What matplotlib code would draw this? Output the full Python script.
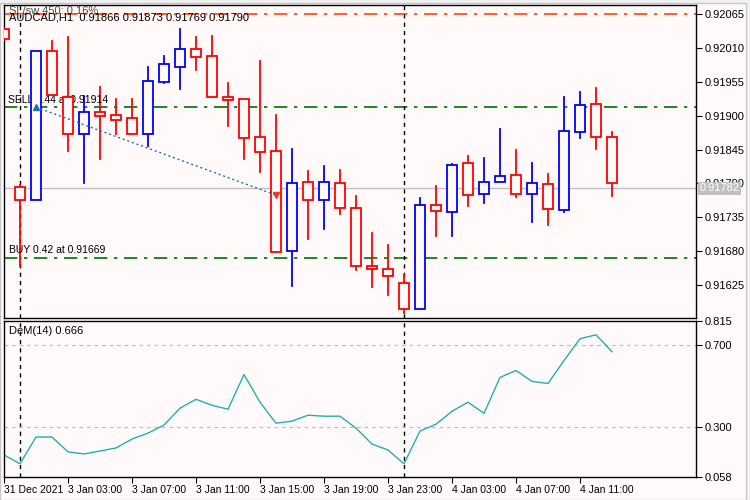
import matplotlib
matplotlib.use("Agg")
import matplotlib.pyplot as plt

opens  = [0.92041,0.91784,0.91763,0.92005,0.91931,0.91870,0.91906,0.91901,0.91896,0.91870,0.91955,0.91979,0.92009,0.91997,0.91931,0.91927,0.91866,0.91843,0.91680,0.91792,0.91763,0.91791,0.91750,0.91656,0.91651,0.91628,0.91586,0.91755,0.91744,0.91823,0.91773,0.91792,0.91804,0.91773,0.91789,0.91747,0.91874,0.91919,0.91866]
highs  = [0.92043,0.91788,0.92005,0.92022,0.92028,0.91932,0.91947,0.91927,0.91927,0.91979,0.91997,0.92041,0.92028,0.92030,0.91953,0.91927,0.91989,0.91901,0.91846,0.91810,0.91818,0.91812,0.91770,0.91710,0.91690,0.91641,0.91766,0.91786,0.91822,0.91835,0.91831,0.91879,0.91844,0.91823,0.91805,0.91931,0.91939,0.91945,0.91873]
lows   = [0.92023,0.91656,0.91763,0.91934,0.91843,0.91791,0.91830,0.91870,0.91870,0.91851,0.91953,0.91944,0.91974,0.91931,0.91883,0.91830,0.91809,0.91679,0.91623,0.91700,0.91716,0.91740,0.91649,0.91622,0.91609,0.91579,0.91586,0.91705,0.91705,0.91753,0.91758,0.91792,0.91768,0.91727,0.91722,0.91744,0.91864,0.91846,0.91769]
closes = [0.92025,0.91763,0.92005,0.91934,0.91870,0.91906,0.91900,0.91893,0.91870,0.91957,0.91984,0.92009,0.91996,0.91931,0.91926,0.91864,0.91841,0.91679,0.91791,0.91763,0.91792,0.91750,0.91656,0.91651,0.91640,0.91586,0.91755,0.91745,0.91820,0.91771,0.91792,0.91802,0.91773,0.91791,0.91748,0.91875,0.91918,0.91866,0.91790]
dem = [0.165,0.122,0.252,0.252,0.180,0.170,0.184,0.199,0.242,0.271,0.310,0.392,0.435,0.406,0.387,0.555,0.421,0.319,0.329,0.358,0.353,0.353,0.295,0.218,0.189,0.122,0.281,0.314,0.377,0.421,0.367,0.541,0.575,0.522,0.512,0.623,0.729,0.748,0.666]
price_ticks = [0.92065,0.92010,0.91955,0.91900,0.91845,0.91790,0.91735,0.91680,0.91625]
dem_ticks = [0.815,0.700,0.300,0.058]
time_tick_idx = [0,4,8,12,16,20,24,28,32,36]
time_labels = ["31 Dec 2021","3 Jan 03:00","3 Jan 07:00","3 Jan 11:00","3 Jan 15:00",
               "3 Jan 19:00","3 Jan 23:00","4 Jan 03:00","4 Jan 07:00","4 Jan 11:00"]
sl_level = 0.92065
sell_price = 0.91914
buy_price = 0.91669
bid = 0.91782
sell_idx, close_idx, close_price = 2, 17, 0.91771
vlines_idx = [1, 25]

plt.rcParams['font.family'] = ['Liberation Sans', 'DejaVu Sans']
W, H = 750, 500
fig = plt.figure(figsize=(7.5, 5), dpi=100, facecolor='#f0f0f0')
bg = '#fffaf9'
L, R = 4/W, 696/W
ax = fig.add_axes([L, 1-318/H, R-L, (318-5)/H], facecolor=bg)
ax2 = fig.add_axes([L, 1-477/H, R-L, (477-321)/H], facecolor=bg)
fig.patches.append(plt.Rectangle((0, 0), 746/W, 497/H, transform=fig.transFigure, facecolor=bg, edgecolor='#c8c8c8', zorder=-5))

bw = 0.6
for i, (o, h, l, c) in enumerate(zip(opens, highs, lows, closes)):
    col = '#0000ff' if c > o else '#ff0000'
    top, bot = max(o, c), min(o, c)
    ax.plot([i, i], [top, h], color=col, lw=1.3, zorder=3)
    ax.plot([i, i], [l, bot], color=col, lw=1.3, zorder=3)
    ax.add_patch(plt.Rectangle((i-bw/2, bot), bw, max(top-bot, 0.000015), facecolor=bg, edgecolor=col, lw=1.3, zorder=4))

ax.axhline(sl_level, color='#ff4500', lw=1.2, ls=(0, (8, 4, 2, 4)), zorder=2)
ax.axhline(sell_price, color='#007000', lw=1.2, ls=(0, (8, 4, 2, 4)), zorder=2)
ax.axhline(buy_price, color='#007000', lw=1.2, ls=(0, (8, 4, 2, 4)), zorder=2)
ax.axhline(bid, color='#c0c0c0', lw=1.0, zorder=1)
for v in vlines_idx:
    ax.axvline(v, color='black', lw=1.0, ls=(0, (3, 3)), zorder=2)
    ax2.axvline(v, color='black', lw=1.0, ls=(0, (3, 3)), zorder=2)
ax.plot([sell_idx, close_idx], [sell_price, close_price], color='#1e6fc0', lw=1.0, ls=(0, (1.5, 2)), zorder=5)
ax.plot([sell_idx], [sell_price], marker='^', color='#1e6fc0', ms=5, zorder=6)
ax.plot([close_idx], [close_price], marker='v', color='#e04020', ms=5, zorder=6)

ax.set_xlim(0, (696-4)/16)
ax2.set_xlim(0, (696-4)/16)
k = 0.0044/270.7
ax.set_ylim(0.920882-318*k, 0.920882-5*k)
ax2.set_ylim(0.700-(477-344)*0.00482, 0.700+(344-321)*0.00482)

for a in (ax, ax2):
    a.yaxis.tick_right()
    a.tick_params(axis='y', direction='out', length=4, labelsize=8, pad=2)
    for s in a.spines.values():
        s.set_linewidth(1.0)
ax.set_yticks(price_ticks)
ax.set_yticklabels([f"{p:.5f}" for p in price_ticks])
ax.set_xticks([])
ax2.set_yticks(dem_ticks)
ax2.set_yticklabels([f"{p:.3f}" for p in dem_ticks])
ax2.set_xticks(time_tick_idx)
ax2.set_xticklabels(time_labels, ha='left', fontsize=7.5)
ax2.tick_params(axis='x', direction='out', length=4, pad=2)

ax.text(1.005, bid, f"{bid:.5f}", transform=ax.get_yaxis_transform(), fontsize=8, color='white',
        va='center', ha='left', bbox=dict(boxstyle='square,pad=0.15', fc='#c0c0c0', ec='none'), zorder=10)

ax.text(5/692, 1-12/313, "AUDCAD,H1  0.91866 0.91873 0.91769 0.91790", transform=ax.transAxes, fontsize=8, va='center')
ax.text(5/692, 1-6/313, "SL/sw 450: 0.16%", transform=ax.transAxes, fontsize=8, va='center', alpha=0.7)
ax.text(0.25, sell_price+0.00004, "SELL 0.44 at 0.91914", fontsize=7.5, va='bottom')
ax.text(0.3, buy_price+0.00004, "BUY 0.42 at 0.91669", fontsize=7.5, va='bottom')

ax2.axhline(0.700, color='#c0c0c0', lw=0.9, ls=(0, (3, 3)))
ax2.axhline(0.300, color='#c0c0c0', lw=0.9, ls=(0, (3, 3)))
ax2.plot(range(len(dem)), dem, color='#20b2aa', lw=1.0)
ax2.text(5/692, 1-10/156, "DeM(14) 0.666", transform=ax2.transAxes, fontsize=8, va='center')

fig.savefig("out.png", dpi=100, facecolor=fig.get_facecolor())
